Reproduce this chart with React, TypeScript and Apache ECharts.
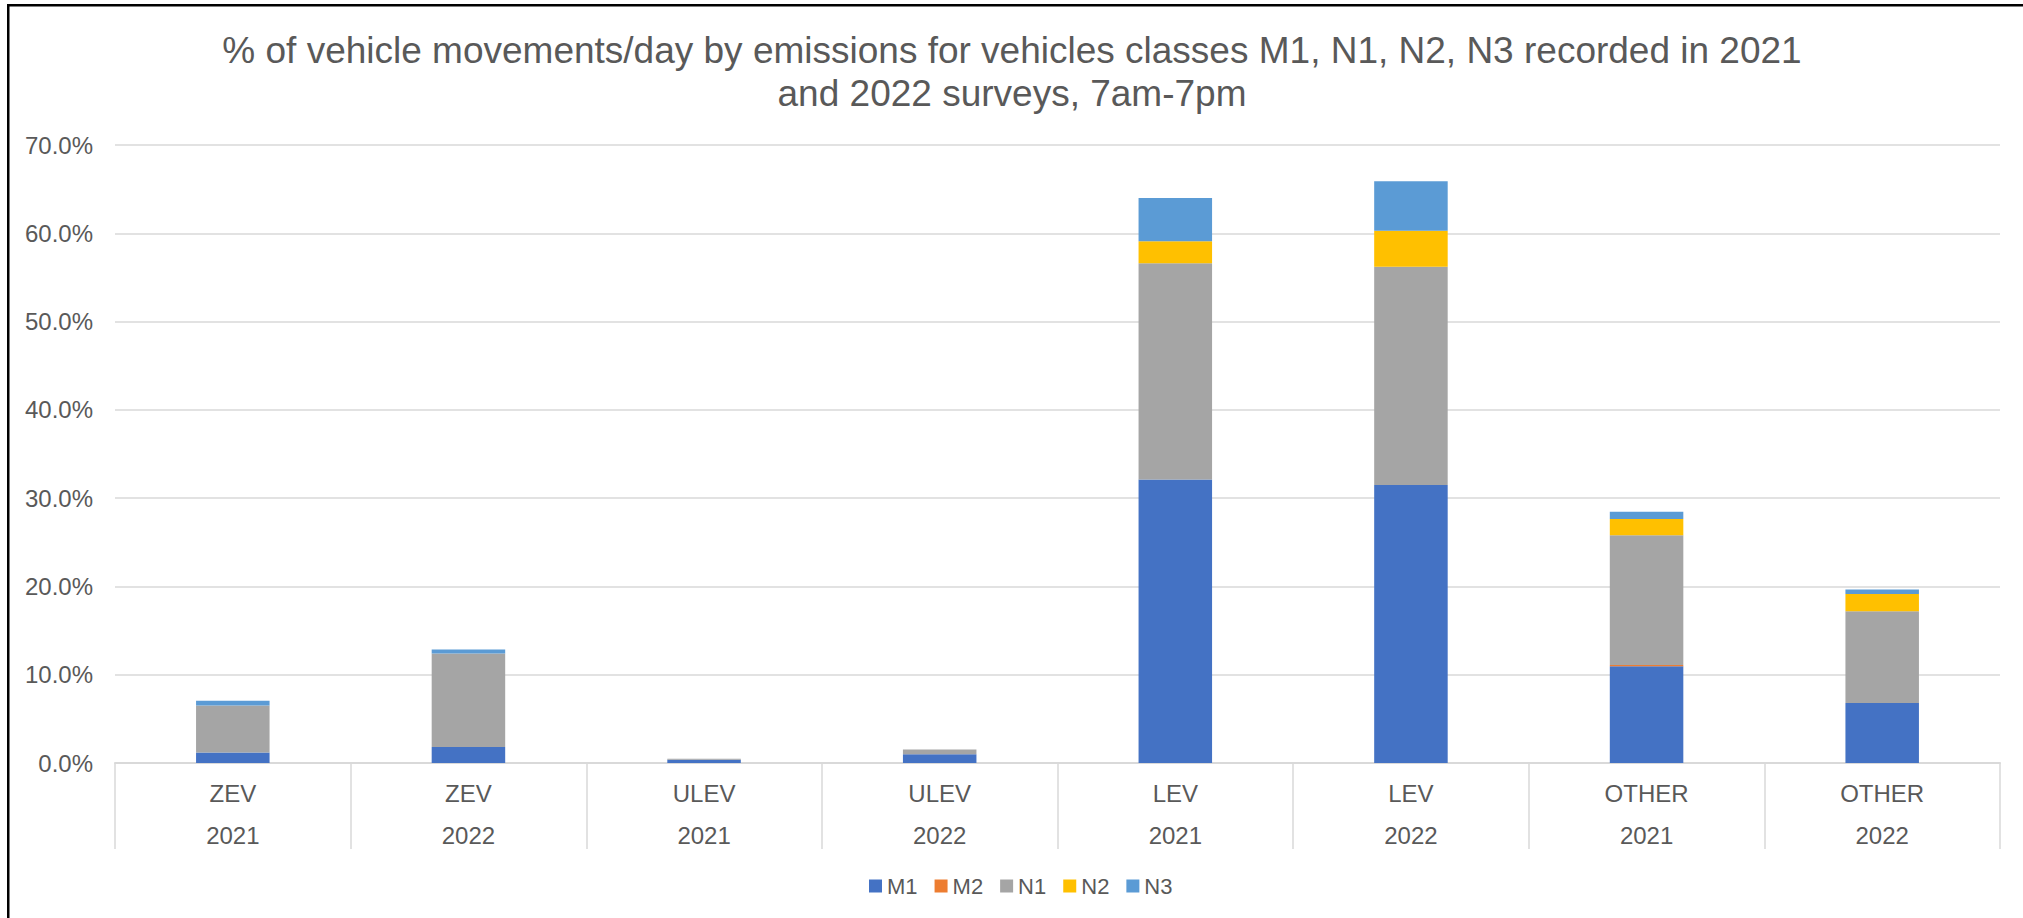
import React, { useEffect, useRef } from "react";
import * as echarts from "echarts";

const emissionClasses = ["ZEV", "ZEV", "ULEV", "ULEV", "LEV", "LEV", "OTHER", "OTHER"];
const surveyYears = ["2021", "2022", "2021", "2022", "2021", "2022", "2021", "2022"];

const seriesNames = ["M1", "M2", "N1", "N2", "N3"];
const seriesColors = ["#4472C4", "#ED7D31", "#A5A5A5", "#FFC000", "#5B9BD5"];

// values in percent
const m1 = [1.2, 1.8, 0.38, 0.98, 32.1, 31.5, 10.95, 6.8];
const m2 = [0, 0, 0, 0, 0, 0, 0.15, 0];
const n1 = [5.3, 10.6, 0.1, 0.54, 24.5, 24.7, 14.7, 10.4];
const n2 = [0, 0, 0, 0, 2.5, 4.1, 1.85, 1.95];
const n3 = [0.55, 0.45, 0, 0, 4.9, 5.6, 0.8, 0.5];

const yTicks = [0, 0.1, 0.2, 0.3, 0.4, 0.5, 0.6, 0.7];

const titleText =
  "% of vehicle movements/day by emissions for vehicles classes M1, N1, N2, N3 recorded in 2021\nand 2022 surveys, 7am-7pm";

const FONT = "'Liberation Sans', Arial, sans-serif";
const TEXT = "#595959";
const GRID = "#D9D9D9";

export default function App() {
  const ref = useRef<HTMLDivElement>(null);

  useEffect(() => {
    document.body.style.margin = "0";
    if (!ref.current) return;
    const chart = echarts.init(ref.current, undefined, { renderer: "svg" });
    const valuesList = [m1, m2, n1, n2, n3];
    const categories = emissionClasses.map((c, i) => c + "\n" + surveyYears[i]);

    chart.setOption({
      animation: false,
      backgroundColor: "#FFFFFF",
      textStyle: { fontFamily: FONT },
      title: {
        text: titleText,
        left: 1012,
        top: 29,
        padding: 0,
        textAlign: "center",
        textStyle: {
          fontFamily: FONT,
          fontSize: 37,
          fontWeight: "normal",
          color: TEXT,
          lineHeight: 43,
        },
      },
      legend: {
        data: seriesNames,
        left: 869,
        top: 875,
        padding: 0,
        icon: "rect",
        itemWidth: 13,
        itemHeight: 13,
        itemGap: 17,
        textStyle: { fontFamily: FONT, fontSize: 22, color: TEXT },
      },
      grid: { left: 115, right: 23, top: 145, bottom: 155, containLabel: false },
      xAxis: {
        type: "category",
        data: categories,
        axisLine: { show: true, lineStyle: { color: GRID, width: 2 } },
        axisTick: {
          show: true,
          interval: 0,
          length: 86,
          lineStyle: { color: GRID, width: 1.5 },
        },
        axisLabel: {
          interval: 0,
          margin: 9,
          fontFamily: FONT,
          fontSize: 24,
          lineHeight: 42,
          color: TEXT,
        },
      },
      yAxis: {
        type: "value",
        min: yTicks[0],
        max: yTicks[yTicks.length - 1],
        interval: 0.1,
        axisLine: { show: false },
        axisTick: { show: false },
        splitLine: { lineStyle: { color: GRID, width: 1.5 } },
        axisLabel: {
          margin: 22,
          fontFamily: FONT,
          fontSize: 24,
          color: TEXT,
          formatter: (v: number) => (v * 100).toFixed(1) + "%",
        },
      },
      series: seriesNames.map((name, si) => ({
        name,
        type: "bar",
        stack: "total",
        barCategoryGap: "68.8%",
        itemStyle: { color: seriesColors[si] },
        data: valuesList[si].map((v) => v / 100),
      })),
      graphic: [
        { type: "rect", shape: { x: 7, y: 4, width: 2016, height: 2.5 }, style: { fill: "#000" } },
        { type: "rect", shape: { x: 7, y: 4, width: 2.5, height: 914 }, style: { fill: "#000" } },
      ],
    });
    return () => chart.dispose();
  }, []);

  return <div ref={ref} style={{ width: 2023, height: 918, position: "absolute", left: 0, top: 0 }} />;
}
